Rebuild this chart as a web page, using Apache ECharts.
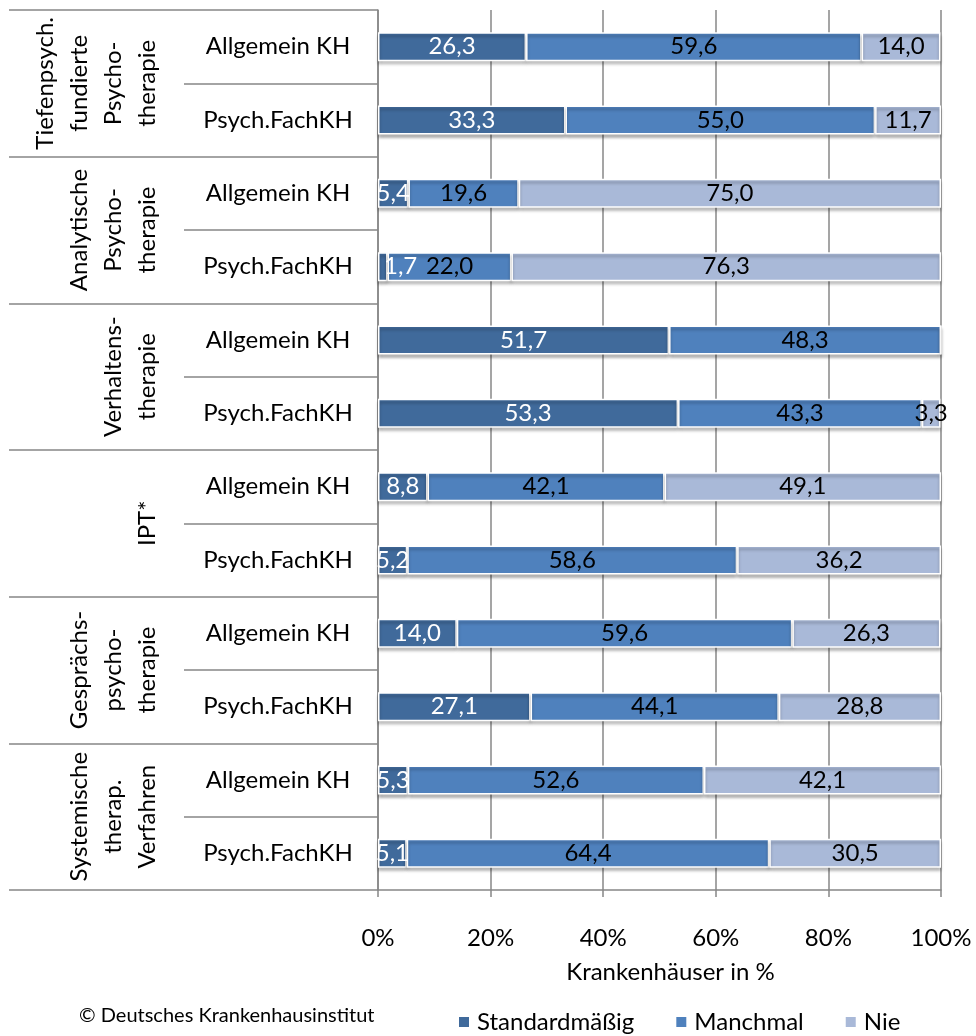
<!DOCTYPE html>
<html>
<head>
<meta charset="utf-8">
<script src="https://cdn.jsdelivr.net/npm/echarts@6/dist/echarts.min.js"></script>
<style>
  html, body { margin: 0; padding: 0; background: #fff; }
  #chart { width: 976px; height: 1036px; }
</style>
</head>
<body>
<div id="chart"></div>
<script>
// Therapieverfahren (obere Ebene der Kategorienachse)
var groups = [
  'Tiefenpsych.\nfundierte\nPsycho-\ntherapie',
  'Analytische\nPsycho-\ntherapie',
  'Verhaltens-\ntherapie',
  'IPT*',
  'Gesprächs-\npsycho-\ntherapie',
  'Systemische\ntherap.\nVerfahren'
]
var hospitals = ['Allgemein KH', 'Psych.FachKH']
var categories = []
groups.forEach(function () { categories.push(hospitals[0], hospitals[1]) })

// Anteile in %, je Zeile von oben nach unten
var standard = [26.3, 33.3, 5.4, 1.7, 51.7, 53.3, 8.8, 5.2, 14.0, 27.1, 5.3, 5.1]
var manchmal = [59.6, 55.0, 19.6, 22.0, 48.3, 43.3, 42.1, 58.6, 59.6, 44.1, 52.6, 64.4]
var nie = [14.0, 11.7, 75.0, 76.3, 0, 3.3, 49.1, 36.2, 26.3, 28.8, 42.1, 30.5]
var xTicks = [0, 20, 40, 60, 80, 100]

var font = 'Lato'
var lineColor = '#878787'

var chart = echarts.init(document.getElementById('chart'))

function fmt(p) {
  return p.value ? p.value.toFixed(1).replace('.', ',') : ''
}

function makeSeries(name, data, color, labelColor) {
  return {
    name: name,
    type: 'bar',
    stack: 'total',
    yAxisIndex: 0,
    barWidth: 29,
    data: data,
    itemStyle: {
      color: color,
      borderColor: '#fff',
      borderWidth: 1.5,
      shadowColor: 'rgba(0,0,0,0.3)',
      shadowBlur: 3,
      shadowOffsetY: 3
    },
    label: {
      show: true,
      position: 'inside',
      formatter: fmt,
      color: labelColor,
      fontFamily: font,
      fontSize: 24
    },
    // sehr schmale Segmente: Beschriftung nicht über die Achse hinausschieben
    labelLayout: function (p) {
      var left = chart.convertToPixel({ gridIndex: 0 }, [0, 0])[0]
      if (p.labelRect.x < left - 5) {
        return { x: left + 6, y: p.labelRect.y, align: 'left', verticalAlign: 'top' }
      }
    }
  }
}

var option = {
  animation: false,
  backgroundColor: '#fff',
  textStyle: { fontFamily: font },
  grid: { left: 378, right: 35, top: 10, bottom: 146, containLabel: false },
  legend: {
    left: 452,
    top: 1005,
    icon: 'rect',
    itemWidth: 12,
    itemHeight: 12,
    itemGap: 40,
    textStyle: { fontFamily: font, fontSize: 24, color: '#000', padding: [0, 0, 0, 2] },
    data: ['Standardmäßig', 'Manchmal', 'Nie']
  },
  xAxis: {
    type: 'value',
    min: xTicks[0],
    max: xTicks[xTicks.length - 1],
    interval: xTicks[1] - xTicks[0],
    name: 'Krankenhäuser in %',
    nameLocation: 'middle',
    nameGap: 70,
    nameTextStyle: { fontFamily: font, fontSize: 24, color: '#000', padding: [0, 0, 0, 22] },
    axisLine: { show: true, lineStyle: { color: lineColor, width: 1.5 } },
    axisTick: { show: true, length: 7, lineStyle: { color: lineColor, width: 1.5 } },
    splitLine: { show: true, lineStyle: { color: lineColor, width: 1.5 } },
    axisLabel: {
      formatter: '{value}%',
      margin: 36,
      fontFamily: font,
      fontSize: 24,
      color: '#000'
    }
  },
  yAxis: [
    {
      type: 'category',
      data: categories,
      inverse: true,
      position: 'left',
      axisLine: { show: true, lineStyle: { color: lineColor, width: 1.5 } },
      axisTick: { show: true, length: 194, interval: 0, lineStyle: { color: lineColor, width: 1.5 } },
      axisLabel: {
        interval: 0,
        align: 'center',
        margin: 100,
        fontFamily: font,
        fontSize: 24,
        color: '#000'
      }
    },
    {
      type: 'category',
      data: groups,
      inverse: true,
      position: 'left',
      offset: 0,
      axisLine: { show: false },
      axisTick: { show: true, length: 369, interval: 0, lineStyle: { color: lineColor, width: 1.5 } },
      axisLabel: {
        interval: 0,
        rotate: 90,
        margin: 214,
        lineHeight: 34,
        fontFamily: font,
        fontSize: 24,
        color: '#000'
      }
    }
  ],
  graphic: [
    {
      type: 'text',
      left: 79,
      top: 1006,
      style: { text: '© Deutsches Krankenhausinstitut', fontFamily: font, fontSize: 20, fill: '#000' }
    }
  ],
  series: [
    makeSeries('Standardmäßig', standard, '#406A9B', '#fff'),
    makeSeries('Manchmal', manchmal, '#4F81BD', '#000'),
    makeSeries('Nie', nie, '#A9B9D8', '#000')
  ]
}

chart.setOption(option)
</script>
</body>
</html>
